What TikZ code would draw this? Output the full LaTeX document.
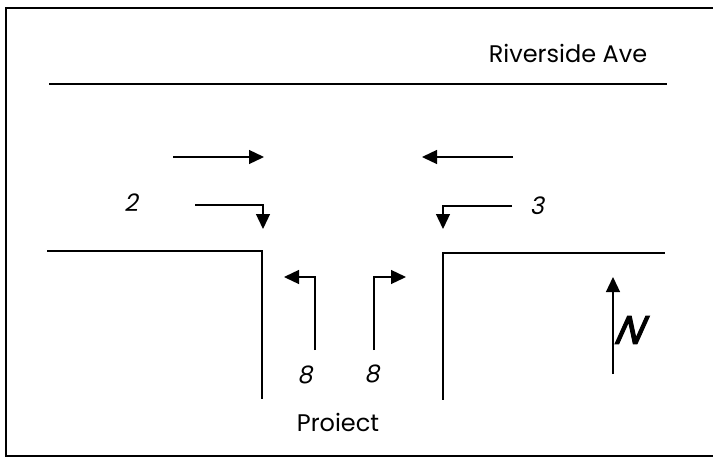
\documentclass[tikz,border=0pt]{standalone}
\usepackage{fontspec}
\setmainfont{Poppins}
\newfontfamily\numfont[FakeSlant=0.2]{Poppins}
\newfontfamily\nfont[FakeSlant=0.45,FakeBold=2.5]{Poppins}
\usetikzlibrary{arrows.meta}
\begin{document}
\begin{tikzpicture}[x=1pt,y=-1pt,
  road/.style={line width=1.4pt,line cap=rect},
  mv/.style={line width=1.3pt,-{Triangle[length=15pt,width=14pt]}},
  lbl/.style={inner sep=0pt,font=\fontsize{24}{24}\selectfont},
  num/.style={inner sep=0pt,font=\numfont\fontsize{24}{24}\selectfont}]
\useasboundingbox (0,0) rectangle (713,458);
% frame
\draw[line width=1.4pt] (713,8) -- (6,8) -- (6,456) -- (713,456);
% roads
\draw[road] (50,84) -- (666,84);
\draw[road] (48,251) -- (262,251) -- (262,398);
\draw[road] (664,253) -- (443,253) -- (443,399);
% labels
\node[lbl] (riv) at (568,53) {Riverside Ave};
\node[lbl] (proj) at (338,422) {Proiect};
\node[num] (n2) at (131,203) {2};
\node[num] (n3) at (537,206) {3};
\node[num] (n8a) at (305,375) {8};
\node[num] (n8b) at (372,374) {8};
% movement coordinates
\coordinate (eb1) at (173,157); \coordinate (eb2) at (264,157);
\coordinate (wb1) at (513,157); \coordinate (wb2) at (422,157);
\coordinate (er1) at (195,205); \coordinate (er2) at (263,205); \coordinate (er3) at (263,229);
\coordinate (wl1) at (512,206); \coordinate (wl2) at (443,206); \coordinate (wl3) at (443,229);
\coordinate (nl1) at (315,350); \coordinate (nl2) at (315,277); \coordinate (nl3) at (284,277);
\coordinate (nr1) at (374,350); \coordinate (nr2) at (374,277); \coordinate (nr3) at (406,277);
\draw[mv] (eb1) -- (eb2);
\draw[mv] (wb1) -- (wb2);
\draw[mv] (er1) -- (er2) -- (er3);
\draw[mv] (wl1) -- (wl2) -- (wl3);
\draw[mv] (nl1) -- (nl2) -- (nl3);
\draw[mv] (nr1) -- (nr2) -- (nr3);
% north arrow
\coordinate (na1) at (613,374); \coordinate (na2) at (613,277);
\draw[mv] (na1) -- (na2);
\node[inner sep=0pt,font=\nfont\fontsize{40}{40}\selectfont] (north) at (626,330) {N};
\end{tikzpicture}
\end{document}
